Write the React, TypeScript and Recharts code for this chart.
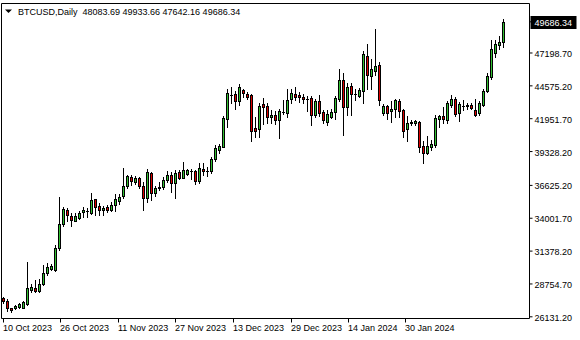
import React from 'react';
import { ComposedChart, Bar, XAxis, YAxis, ReferenceLine } from 'recharts';

const symbol = 'BTCUSD';
const timeframe = 'Daily';

// Daily bars, 10 Oct 2023 .. 12 Feb 2024
const opens = [
  27600, 27390, 26840, 26810, 26920, 26870, 27150, 28250, 28455, 28190,
  28730, 29630, 29950, 29850, 31600, 33540, 34660, 34180, 33810, 34020,
  34520, 34600, 34445, 35515, 34980, 34637, 34900, 34684, 35060, 35379,
  35755, 36553, 37296, 36920, 37240, 36601, 35595, 37615, 36018, 36400,
  36497, 37032, 37455, 36856, 37719, 37240, 37575, 37740, 37751, 37016,
  37959, 37800, 37775, 38709, 39452, 39715, 41904, 43820, 43924, 43341,
  44243, 43924, 43868, 41209, 41153, 43126, 42966, 42063, 42223, 41848,
  42500, 42383, 43500, 43924, 43820, 43709, 43540, 43605, 42271, 43341,
  42487, 41687, 42063, 42487, 43549, 45043, 42862, 44563, 43900, 43764,
  44140, 46958, 45322, 45785, 46264, 42431, 42966, 42543, 42702, 43389,
  42646, 41153, 41620, 41584, 41688, 39771, 39236, 39715, 39875, 41904,
  42167, 41848, 43070, 43549, 42383, 42950, 42966, 43022, 42646, 42383,
  43070, 44140, 45306, 47222, 47861, 48083.69,
];
const highs = [
  27750, 27550, 26860, 27110, 27230, 27390, 30480, 28730, 29046, 29150,
  30268, 30428, 30372, 31865, 35699, 34876, 34820, 34397, 34397, 34605,
  34900, 34820, 36042, 35539, 35220, 34955, 35060, 35275, 35914, 35962,
  38039, 37455, 37455, 37400, 37296, 36920, 37937, 37719, 36601, 36873,
  37296, 37775, 37671, 37831, 37879, 38470, 37935, 37895, 37815, 38390,
  38390, 38118, 38869, 39827, 39931, 42167, 44299, 44507, 44140, 44723,
  44347, 44084, 43924, 42111, 43181, 43605, 43181, 42646, 42542, 42750,
  43445, 44347, 44299, 44507, 44084, 43924, 43765, 43765, 43549, 43820,
  42646, 42646, 42702, 43765, 45897, 45577, 44779, 44827, 44299, 44403,
  47334, 47917, 46695, 49115, 46480, 43125, 43070, 43389, 43549, 43549,
  42750, 42167, 41848, 41848, 41744, 40147, 40570, 40251, 42223, 42271,
  42910, 43341, 43868, 43709, 43285, 43445, 43229, 43181, 43549, 43389,
  44347, 45625, 48237, 48237, 48556, 49933.66,
];
const lows = [
  27230, 26600, 26540, 26750, 26860, 26810, 27100, 28090, 28136, 28140,
  28671, 29469, 29845, 29789, 31466, 33383, 33806, 33359, 33758, 33966,
  34102, 34102, 34381, 34261, 34285, 34261, 34477, 34581, 34581, 35164,
  35643, 36393, 36657, 36761, 36393, 34637, 35275, 35435, 35802, 36233,
  36337, 36873, 36122, 35579, 37136, 37192, 37455, 37160, 36697, 36840,
  37431, 37375, 37591, 38597, 39236, 39668, 41313, 43181, 42750, 43022,
  43709, 43549, 40147, 40514, 40466, 41529, 41584, 41584, 41529, 40410,
  42327, 42111, 43229, 43445, 43285, 43229, 42542, 41473, 42063, 42167,
  41632, 41473, 41990, 41952, 43341, 40626, 42271, 42271, 43445, 43661,
  43181, 44347, 44299, 45465, 43070, 42247, 41952, 41688, 42111, 42111,
  40514, 40195, 41425, 41425, 39292, 38438, 39133, 39452, 39715, 41313,
  41584, 41584, 42862, 42167, 41792, 42646, 42702, 42702, 42167, 42223,
  42966, 44084, 45146, 46855, 47542, 47642.16,
];
const closes = [
  27390, 26860, 26680, 27010, 27130, 27290, 28410, 28510, 28192, 28775,
  29629, 30108, 30164, 31650, 33566, 34717, 34237, 33822, 34180, 34397,
  34637, 34560, 35459, 34924, 34621, 34844, 34684, 35060, 35539, 35699,
  36553, 37352, 36976, 37240, 36553, 35595, 37671, 36018, 36393, 36520,
  37080, 37455, 36856, 37615, 37240, 37879, 37831, 37770, 37016, 38015,
  37751, 37780, 38773, 39612, 39771, 42007, 44028, 43840, 43341, 44507,
  43980, 43709, 40993, 40993, 42966, 42910, 42111, 42271, 41848, 42542,
  42450, 43445, 43980, 43709, 43661, 43500, 43560, 42271, 43389, 42383,
  41848, 42327, 42487, 43605, 45043, 42862, 44459, 43924, 43950, 44243,
  47118, 45465, 45897, 46160, 43405, 42966, 42431, 42750, 43445, 42590,
  41009, 41632, 41650, 41744, 39715, 39188, 39771, 39931, 42007, 42167,
  41951, 43229, 43549, 42327, 43126, 42980, 43070, 42806, 42271, 43229,
  44140, 45362, 47494, 47917, 48077, 49686.34,
];

const priceTicks = [26131.2, 28754.7, 31378.2, 34001.7, 36625.2, 39328.2, 41951.7, 44575.2, 47198.7];
const dateLabels = ['10 Oct 2023', '26 Oct 2023', '11 Nov 2023', '27 Nov 2023', '13 Dec 2023', '29 Dec 2023', '14 Jan 2024', '30 Jan 2024'];
const dateTickBars = [-0.1, 14.2, 28.7, 43.05, 57.45, 71.9, 86.3, 100.6];

const xDomain = [-0.5, 131.5];
const yDomain = [25996, 51151];

const GREEN = '#32c032';
const RED = '#dc0000';
const FONT = '"Liberation Sans", Arial, sans-serif';

const data = opens.map((o, i) => ({
  i,
  open: o,
  high: highs[i],
  low: lows[i],
  close: closes[i],
  range: [lows[i], highs[i]],
}));
const last = data[data.length - 1];
const yTicks = [...priceTicks, last.close];

function Candle(props: any) {
  const { x, y, width, height, payload } = props;
  if (!payload || x == null || y == null) return null;
  const top = Math.min(y, y + height);
  const bot = Math.max(y, y + height);
  const span = payload.high - payload.low;
  const k = span > 0 ? (bot - top) / span : 0;
  const py = (v: number) => top + (payload.high - v) * k;
  const cx = Math.floor(x + width / 2) + 0.5;
  const up = payload.close >= payload.open;
  const yHi = Math.round(top);
  const yLo = Math.round(bot);
  const bTop = Math.round(py(Math.max(payload.open, payload.close)));
  const bBot = Math.round(py(Math.min(payload.open, payload.close)));
  return (
    <g>
      <line x1={cx} x2={cx} y1={yHi} y2={yLo + 1} stroke="#000" strokeWidth={1} />
      {bBot - bTop >= 1 ? (
        <rect x={cx - 1} y={bTop + 0.5} width={2} height={bBot - bTop} fill={up ? GREEN : RED} stroke="#000" strokeWidth={1} />
      ) : (
        <line x1={cx - 1.5} x2={cx + 1.5} y1={bTop + 0.5} y2={bTop + 0.5} stroke="#000" strokeWidth={1} />
      )}
    </g>
  );
}

function PriceTick(props: any) {
  const { x, y, payload } = props;
  const v = payload.value;
  const isLast = Math.abs(v - last.close) < 0.001;
  const ty = Math.round(y);
  if (isLast) {
    return (
      <g>
        <rect x={x - 4} y={ty - 6} width={46} height={13} fill="#000" />
        <text x={x} y={ty + 3.5} fontSize={9} fontFamily={FONT} fill="#fff">{v.toFixed(2)}</text>
      </g>
    );
  }
  return (
    <text x={x} y={ty + 3.5} fontSize={9} fontFamily={FONT} fill="#000">{v.toFixed(2)}</text>
  );
}

function DateTick(props: any) {
  const { x, y, index } = props;
  const px = Math.round(x - 0.5) + 0.5;
  return (
    <g>
      <line x1={px} x2={px} y1={y} y2={y + 4} stroke="#000" strokeWidth={1} />
      <text x={px - 0.5} y={y + 12.5} fontSize={9} fontFamily={FONT} fill="#000">{dateLabels[index]}</text>
    </g>
  );
}

export default function App() {
  return (
    <div style={{ position: 'absolute', left: 0, top: 0, width: 580, height: 340, background: '#fff' }}>
      <ComposedChart
        width={580}
        height={340}
        data={data}
        margin={{ top: 3.5, right: 0, bottom: 0, left: 1.5 }}
      >
        <XAxis
          dataKey="i"
          type="number"
          domain={xDomain}
          allowDataOverflow
          ticks={dateTickBars}
          interval={0}
          height={21.5}
          tickSize={0}
          tickMargin={0}
          tickLine={false}
          axisLine={{ stroke: '#000', strokeWidth: 1 }}
          tick={<DateTick />}
        />
        <YAxis
          orientation="right"
          type="number"
          domain={yDomain}
          allowDataOverflow
          ticks={yTicks}
          interval={0}
          width={50.5}
          tickSize={3}
          tickMargin={2}
          tickLine={{ stroke: '#000', strokeWidth: 1 }}
          axisLine={{ stroke: '#000', strokeWidth: 1 }}
          tick={<PriceTick />}
        />
        <ReferenceLine y={yDomain[1]} stroke="#000" strokeWidth={1} ifOverflow="visible" />
        <ReferenceLine x={xDomain[0]} stroke="#000" strokeWidth={1} ifOverflow="visible" />
        <Bar dataKey="range" barSize={3} isAnimationActive={false} shape={(p: any) => <Candle {...p} />} />
      </ComposedChart>
      <svg width={580} height={24} style={{ position: 'absolute', left: 0, top: 0, pointerEvents: 'none' }}>
        <polygon points="5,9.5 12,9.5 8.5,13" fill="#000" />
        <text x={18} y={14.5} fontSize={9} fontFamily={FONT} fill="#000" style={{ whiteSpace: 'pre' }}>
          {`${symbol},${timeframe}  ${last.open.toFixed(2)} ${last.high.toFixed(2)} ${last.low.toFixed(2)} ${last.close.toFixed(2)}`}
        </text>
      </svg>
    </div>
  );
}
